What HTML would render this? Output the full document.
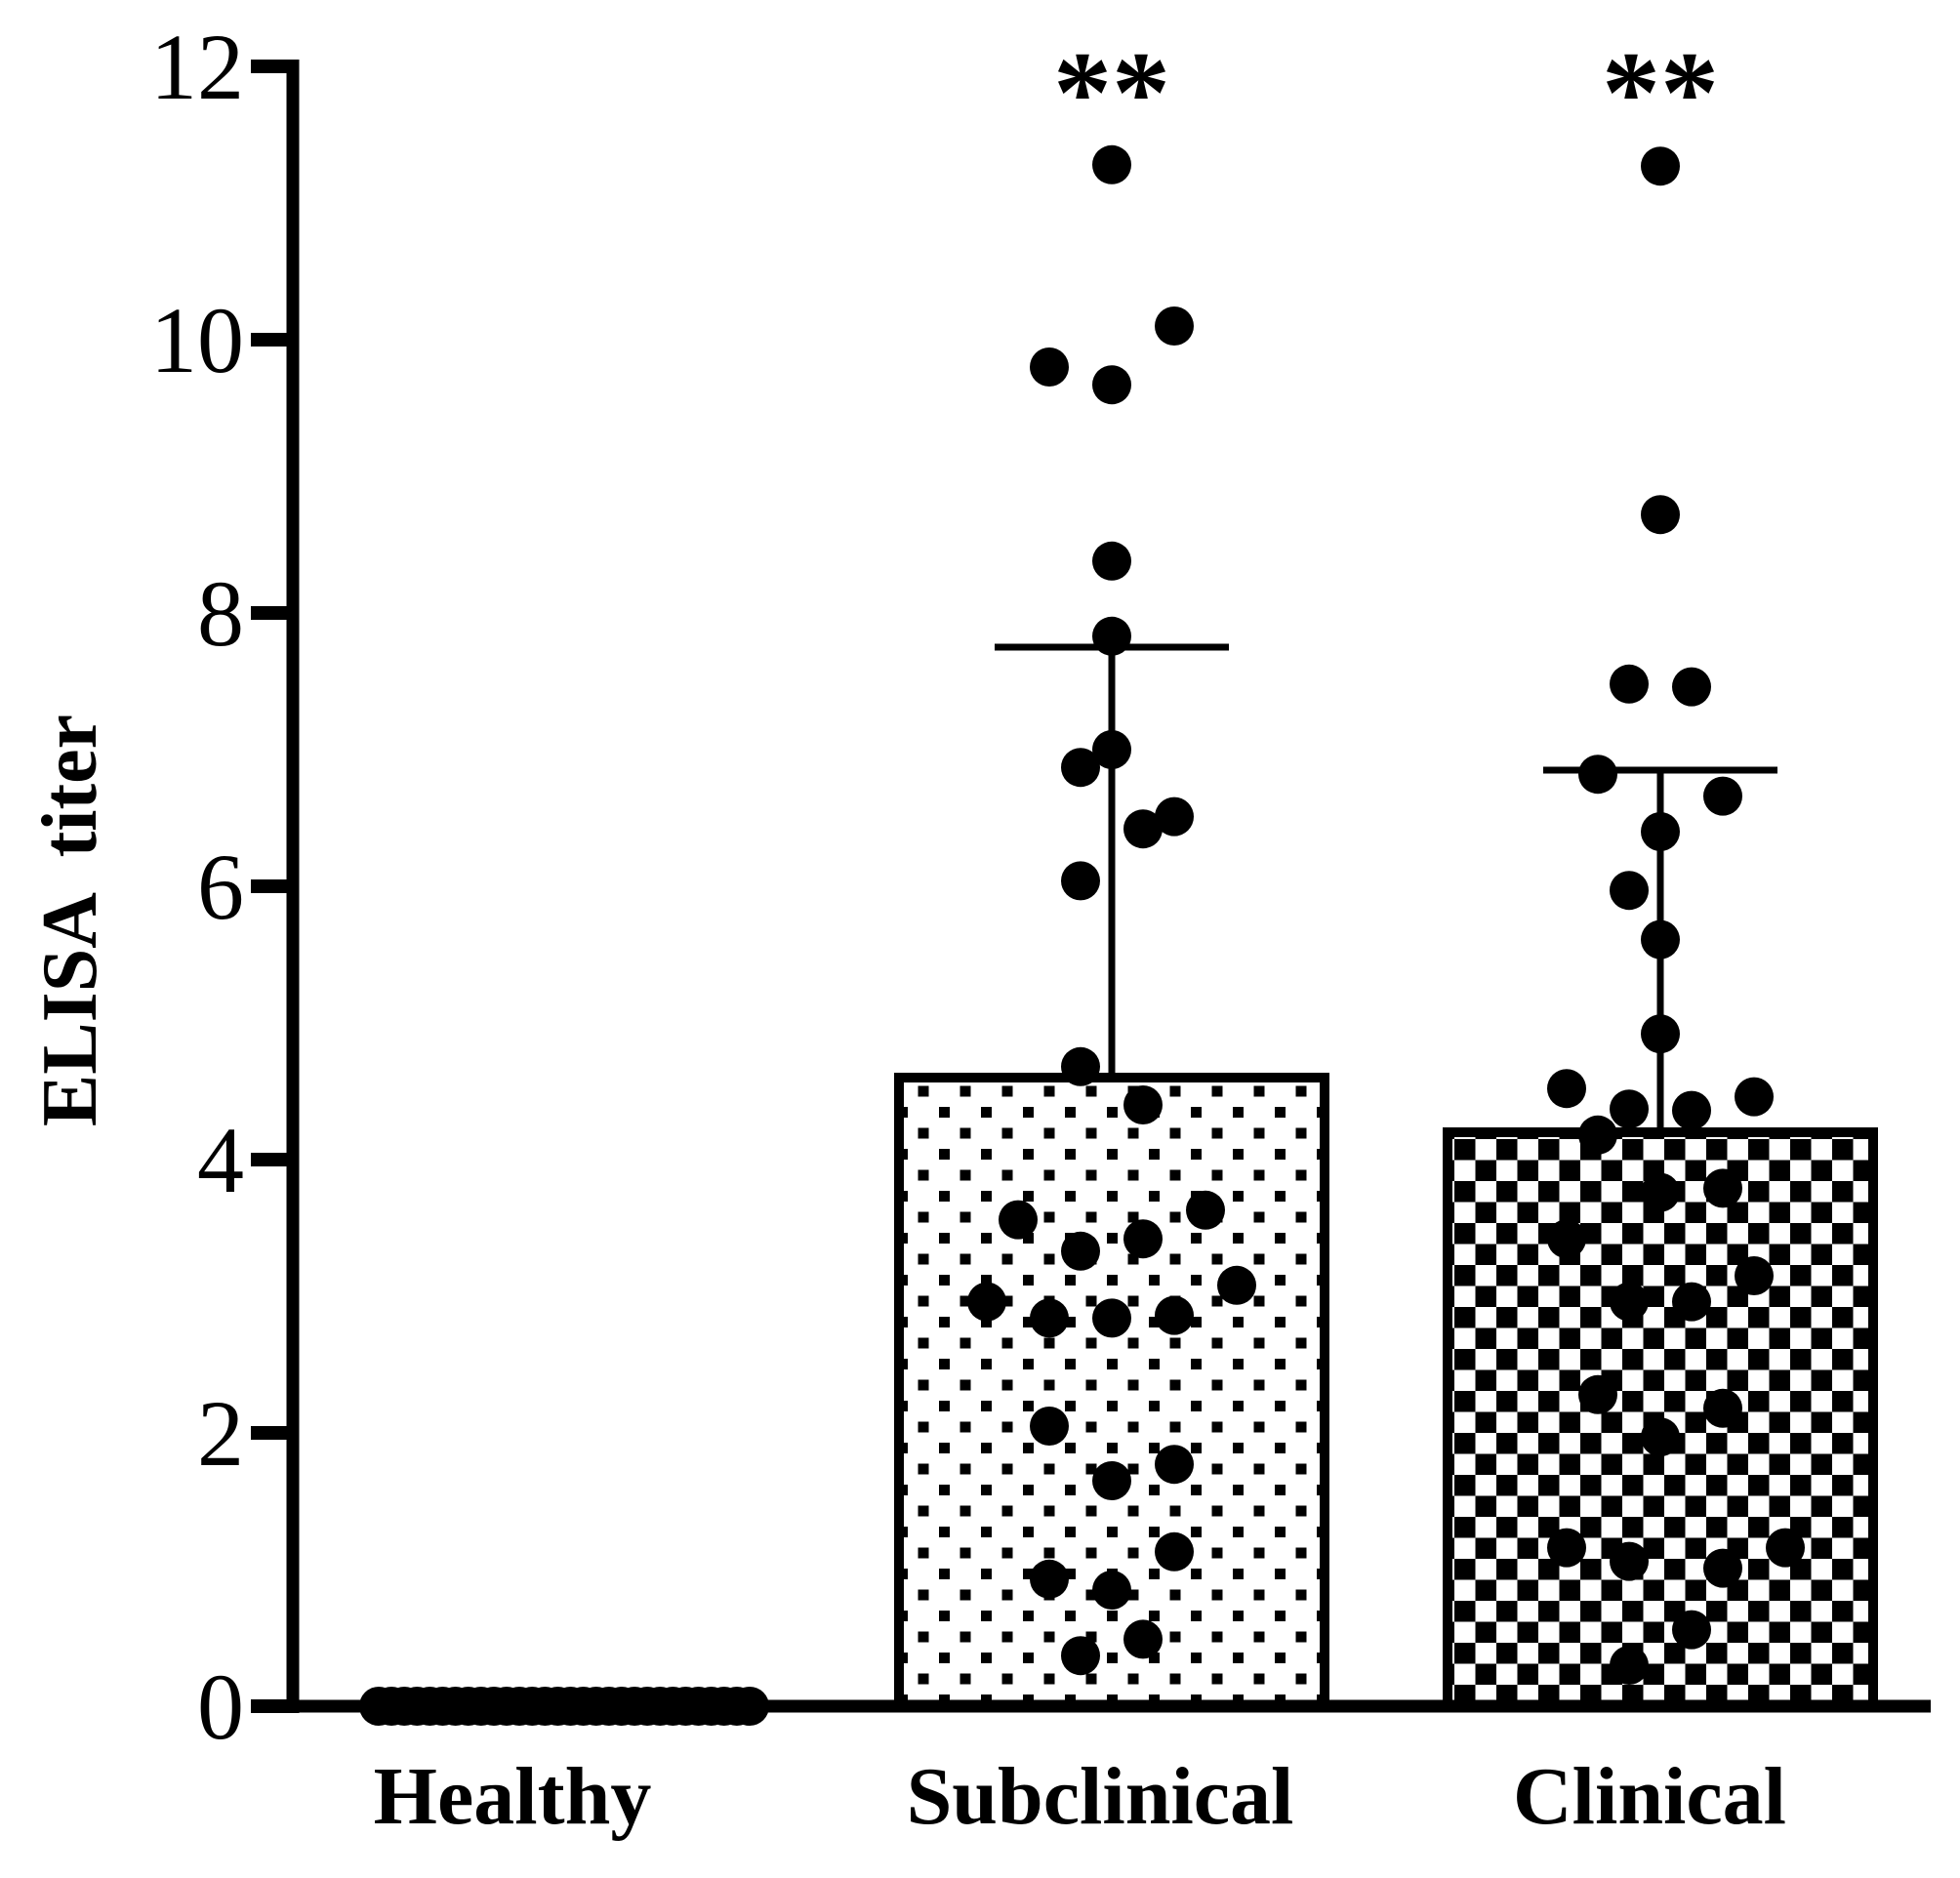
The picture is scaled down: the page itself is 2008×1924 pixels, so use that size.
<!DOCTYPE html>
<html><head><meta charset="utf-8"><style>
html,body{margin:0;padding:0;background:#fff;}
svg{display:block;}
</style></head><body>
<svg id="chart" width="2008" height="1924" viewBox="0 0 2008 1924" xmlns="http://www.w3.org/2000/svg">
<defs>
<pattern id="dots" patternUnits="userSpaceOnUse" width="43" height="43" x="0" y="0">
<rect x="16" y="16" width="11" height="11" fill="#000"/>
<rect x="37.5" y="37.5" width="11" height="11" fill="#000"/>
<rect x="-5.5" y="37.5" width="11" height="11" fill="#000"/>
<rect x="37.5" y="-5.5" width="11" height="11" fill="#000"/>
<rect x="-5.5" y="-5.5" width="11" height="11" fill="#000"/>
</pattern>
<pattern id="checker" patternUnits="userSpaceOnUse" width="43" height="43" x="1490" y="1167">
<rect x="0" y="0" width="21.5" height="21.5" fill="#000"/>
<rect x="21.5" y="21.5" width="21.5" height="21.5" fill="#000"/>
</pattern>
</defs>
<g id="plot"></g>
</svg>
<script>
const categories = ["Healthy", "Subclinical", "Clinical"];
const means = [0, 4.6, 4.2];
const errTop = [0, 7.75, 6.85];
const yTicks = [0, 2, 4, 6, 8, 10, 12];
const healthyValues = [0,0,0,0,0,0,0,0,0,0,0,0,0,0,0,0,0,0,0,0,0,0,0,0,0,0,0,0,0,0];
const subValues = [11.28,10.1,9.8,9.67,8.38,7.83,7.0,6.87,6.51,6.42,6.04,4.68,4.4,3.56,3.63,3.33,3.42,3.08,2.96,2.84,2.84,2.86,2.05,1.77,1.65,1.13,0.93,0.85,0.49,0.37];
const subJitter = [0,2,-2,0,0,0,0,-1,2,1,-1,-1,1,-3,3,-1,1,4,-4,-2,0,2,-2,2,0,2,-2,0,1,-1];
const cliValues = [11.27,8.72,7.48,7.46,6.82,6.66,6.4,5.97,5.61,4.92,4.52,4.37,4.36,4.46,4.18,3.76,3.79,3.42,3.15,2.96,2.96,2.28,2.18,1.97,1.16,1.06,1.01,1.16,0.56,0.3];
const cliJitter = [0,0,-1,1,-2,2,0,-1,0,0,-3,-1,1,3,-2,0,2,-3,3,-1,1,-2,2,0,-3,-1,2,4,1,-1];
const stars = ["", "**", "**"];

const NS = "http://www.w3.org/2000/svg";
const g = document.getElementById("plot");
const Y0 = 1748, PER = 140;
function yScale(v){ return Y0 - v * PER; }
const centers = [580, 1139, 1701];
const barW = 436;
function xScale(i){ return centers[i]; }
function mk(tag, attrs){ const e = document.createElementNS(NS, tag); for (const k in attrs) e.setAttribute(k, attrs[k]); g.appendChild(e); return e; }

for (let i = 1; i < 3; i++) {
  const x = xScale(i) - barW/2, y = yScale(means[i]);
  const r = mk("rect", {x: x, y: y, width: barW, height: Y0 - y, fill: "#fff"});
  
  
}
function drawPoints(vals, jit, ci, name){
  vals.forEach((v, k) => {
    const c = mk("circle", {cx: xScale(ci) + jit[k]*32, cy: yScale(v), r: 20, fill: "#000"});
    
    
  });
}
drawPoints(subValues, subJitter, 1, 'subclinical');
drawPoints(cliValues, cliJitter, 2, 'clinical');
const pats = [null, "url(#dots)", "url(#checker)"];
for (let i = 1; i < 3; i++) {
  const x = xScale(i) - barW/2, y = yScale(means[i]);
  const p = mk("rect", {x: x+5, y: y+5, width: barW-10, height: Y0 - y - 5, fill: pats[i]});
  
  
  const o = mk("rect", {x: x, y: y, width: barW, height: Y0 - y, fill: "none", stroke: "#000", "stroke-width": 10});
  
  
  const eb = mk("line", {x1: xScale(i), x2: xScale(i), y1: y, y2: yScale(errTop[i]), stroke: "#000", "stroke-width": 7});
  
  
  const cap = mk("line", {x1: xScale(i) - 120, x2: xScale(i) + 120, y1: yScale(errTop[i]), y2: yScale(errTop[i]), stroke: "#000", "stroke-width": 7});
  
  
  const s = mk("text", {x: xScale(i), y: 135, "text-anchor": "middle", "font-family": "Liberation Serif, serif", "font-weight": "bold", "font-size": 120});
  s.textContent = stars[i];
  
  
}
healthyValues.forEach((v, k) => {
  const c = mk("circle", {cx: 388 + k * (380 / (healthyValues.length - 1)), cy: yScale(v), r: 20, fill: "#000"});
  
  
});
const ya = mk("line", {x1: 300, x2: 300, y1: yScale(12) - 7, y2: Y0 + 7, stroke: "#000", "stroke-width": 13});


const xa = mk("line", {x1: 257, x2: 1978, y1: Y0, y2: Y0, stroke: "#000", "stroke-width": 13});


yTicks.forEach(t => {
  const tk = mk("line", {x1: 257, x2: 300, y1: yScale(t), y2: yScale(t), stroke: "#000", "stroke-width": 14});
  
  
  const tl = mk("text", {x: 250, y: yScale(t) + 33, "text-anchor": "end", "font-family": "Liberation Serif, serif", "font-size": 96});
  tl.textContent = t;
  
  
});
categories.forEach((c, i) => {
  const t = mk("text", {x: [525, 1127, 1690][i], y: 1868, "text-anchor": "middle", "font-family": "Liberation Serif, serif", "font-weight": "bold", "font-size": 84});
  t.textContent = c;
  
  
});
const yt = mk("text", {x: 0, y: 0, transform: "translate(98,943) rotate(-90)", "text-anchor": "middle", "font-family": "Liberation Serif, serif", "font-weight": "bold", "font-size": 80, style: "white-space:pre"});
yt.textContent = "ELISA  titer";


</script>
</body></html>
